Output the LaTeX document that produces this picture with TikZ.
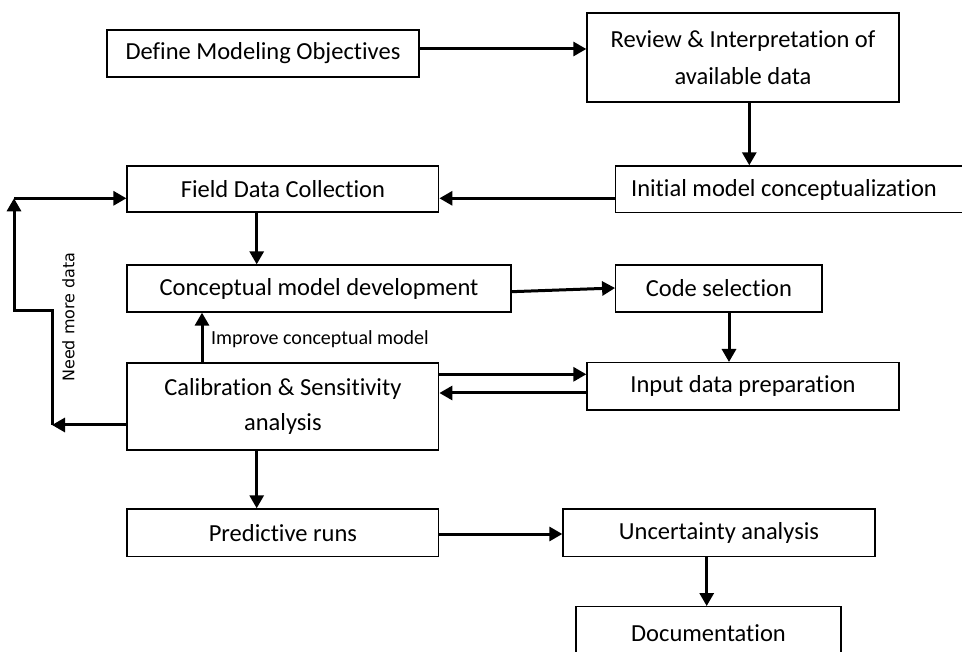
\documentclass[tikz,border=0pt]{standalone}
\usepackage{fontspec}
\setmainfont{Carlito}[Ligatures=NoCommon]
\newfontfamily\loopfont{DejaVu Sans}
\usetikzlibrary{arrows.meta}
\begin{document}
\begin{tikzpicture}[x=1pt,y=-1pt,
  stepbox/.style={draw=black, line width=1.3pt, fill=white, inner sep=0pt,
    font=\fontsize{24.5}{36.5}\selectfont, align=center},
  flow/.style={line width=3pt, -{Triangle[length=13pt,width=14pt]}},
  note/.style={inner sep=0pt, font=\fontsize{20}{24}\selectfont}]
\useasboundingbox (0,0) rectangle (962,652);
\clip (0,0) rectangle (962,652);

% process steps
\node[stepbox, minimum width=312pt, minimum height=47pt] (def) at (263,53.5) {Define Modeling Objectives};
\node[stepbox, minimum width=312pt, minimum height=89pt] (rev) at (743,57.5) {Review \& Interpretation of\\available data};
\node[stepbox, minimum width=352pt, minimum height=46.7pt] (init) at (791.7,189.3) {};
\node[inner sep=0pt, font=\fontsize{24.5}{36.5}\selectfont] (inittext) at (784,190) {Initial model conceptualization};
\node[stepbox, minimum width=311.7pt, minimum height=46pt] (field) at (282.9,189) {Field Data Collection};
\node[stepbox, minimum width=384pt, minimum height=47pt] (concept) at (319,288.5) {Conceptual model development};
\node[stepbox, minimum width=206.3pt, minimum height=47pt] (code) at (718.9,288.5) {Code selection};
\node[stepbox, minimum width=311.7pt, minimum height=87pt, font=\fontsize{24.5}{34.7}\selectfont] (cal) at (282.9,406.5) {Calibration \& Sensitivity\\analysis};
\node[stepbox, minimum width=312pt, minimum height=47.3pt] (input) at (743,386.3) {Input data preparation};
\node[stepbox, minimum width=311.7pt, minimum height=47.7pt] (pred) at (282.9,532.8) {Predictive runs};
\node[stepbox, minimum width=312pt, minimum height=47.7pt] (unc) at (719,532.8) {Uncertainty analysis};
\node[stepbox, minimum width=265pt, minimum height=52pt] (doc) at (708.5,632.7) {Documentation};

% main flow
\draw[flow] (def.east |- 0,49) -- (rev.west |- 0,49);
\draw[flow] (rev.south -| 749.3,0) -- (init.north -| 749.3,0);
\draw[flow] (init.west |- 0,198.3) -- (field.east |- 0,198.3);
\draw[flow] (field.south -| 256.7,0) -- (concept.north -| 256.7,0);
\draw[flow] (concept.east |- 0,291.7) -- (code.west |- 0,288);
\draw[flow] (code.south -| 729,0) -- (input.north -| 729,0);
\draw[flow] (cal.east |- 0,374.3) -- (input.west |- 0,374.3);
\draw[flow] (input.west |- 0,393) -- (cal.east |- 0,393);
\draw[flow] (cal.south -| 256.7,0) -- (pred.north -| 256.7,0);
\draw[flow] (pred.east |- 0,534) -- (unc.west |- 0,534);
\draw[flow] (unc.south -| 706.7,0) -- (doc.north -| 706.7,0);

% feedback to the conceptual model
\draw[flow] (cal.north -| 202,0) -- (concept.south -| 202,0);
\node[note, anchor=west] (improve) at (211,339) {Improve conceptual model};

% feedback loop for more field data
\coordinate (loopA) at (52,425);
\coordinate (loopB) at (52,310.5);
\coordinate (loopC) at (14,310.5);
\coordinate (loopD) at (14,198.3);
\draw[flow] (cal.west |- loopA) -- (loopA);
\draw[flow] (loopA) -- (loopB) -- (loopC) -- (loopD);
\draw[flow] (loopD) -- (field.west |- loopD);
\node[inner sep=0pt, rotate=90, font=\loopfont\fontsize{16}{19}\selectfont] (needmore) at (68.5,317) {Need more data};
\end{tikzpicture}
\end{document}
